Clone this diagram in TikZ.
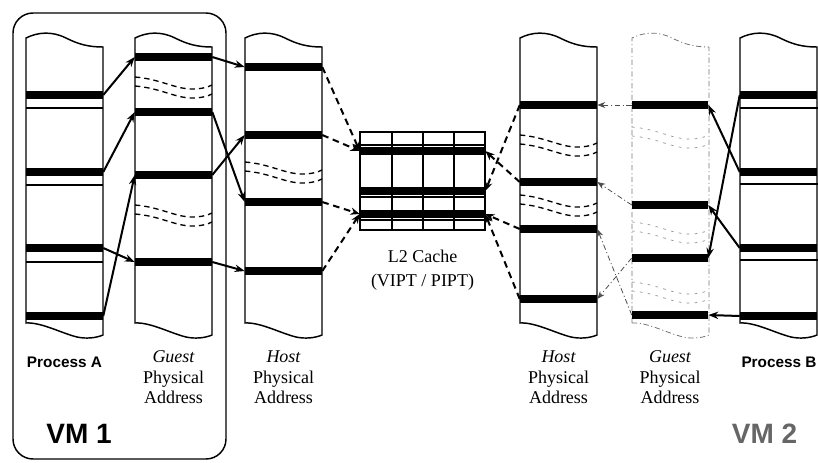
\documentclass[tikz,border=0pt]{standalone}
\usepackage{fontspec}
\setmainfont{Liberation Serif}
\setsansfont{Liberation Sans}
\usetikzlibrary{arrows.meta}

\begin{document}
\begin{tikzpicture}[x=0.75pt,y=-0.75pt,
  colline/.style={line width=1.1pt},
  bar/.style={fill=black, draw=none, inner sep=0pt, minimum width=57.75pt, minimum height=5.4pt},
  cachebar/.style={fill=black, draw=none, inner sep=0pt, minimum width=93.75pt, minimum height=6.5pt},
  sepline/.style={line width=0.8pt},
  mapsolid/.style={line width=1.5pt, -{Stealth[length=7.5pt,width=5.5pt]}},
  mapdash/.style={line width=1.5pt, dash pattern=on 5pt off 3.5pt, -{Stealth[length=7pt,width=5.5pt]}},
  mapdot/.style={line width=0.6pt, black!70, dash pattern=on 4pt off 2pt on 0.8pt off 2pt, -{Stealth[length=6pt,width=4.5pt]}},
  gapline/.style={line width=1pt, dash pattern=on 4pt off 3pt},
  faintgap/.style={line width=0.5pt, black!45, dash pattern=on 2pt off 4pt},
  faintcol/.style={line width=0.6pt, black!55, dash pattern=on 4pt off 2pt on 0.8pt off 2pt},
  serif/.style={font=\fontsize{13.5}{16}\selectfont, anchor=base, inner sep=0pt},
  sanslab/.style={font=\fontsize{11.5}{14}\selectfont\sffamily\bfseries, anchor=base, inner sep=0pt},
  vmlab/.style={font=\fontsize{21}{24}\selectfont\sffamily\bfseries, anchor=base, inner sep=0pt},
  pics/memcol/.style={code={
    \draw (0,323) -- (0,38) .. controls (12,32) and (26,31) .. (40,38)
      .. controls (52,44) and (62,47) .. (77,47) -- (77,335)
      .. controls (70,338) and (60,339) .. (51,337)
      .. controls (35,333) and (15,322) .. (0,323) -- cycle;
  }},
  pics/memgap/.style={code={
    \draw (0,0) .. controls (25,2) and (40,12) .. (57,12) .. controls (67,12) and (73,10) .. (77,8);
    \draw (0,9) .. controls (25,11) and (40,21) .. (57,21) .. controls (67,21) and (73,19) .. (77,17);
  }},
]
\useasboundingbox (0,0) rectangle (818,462);

% VM 1 enclosure
\draw[line width=1.1pt, rounded corners=15pt] (13,13) rectangle (226,459);

% address-space columns
\pic[colline] at (26,0) {memcol};
\pic[colline] at (135,0) {memcol};
\pic[colline] at (245,0) {memcol};
\pic[colline] at (520,0) {memcol};
\pic[faintcol] at (632,0) {memcol};
\pic[colline] at (740,0) {memcol};

% cut-away gaps inside the physical address columns
\pic[gapline] at (135,77) {memgap};
\pic[gapline] at (135,205) {memgap};
\pic[gapline] at (245,162) {memgap};
\pic[gapline] at (520,135) {memgap};
\pic[gapline] at (520,195) {memgap};
\pic[faintgap] at (632,127) {memgap};
\pic[faintgap] at (632,222) {memgap};
\pic[faintgap] at (632,282) {memgap};

% Process A pages
\node[bar] (pa1) at (64.5,95) {};
\node[bar] (pa2) at (64.5,172) {};
\node[bar] (pa3) at (64.5,248) {};
\node[bar] (pa4) at (64.5,316) {};
\draw[sepline] (26,108) -- (103,108) (26,185) -- (103,185) (26,262) -- (103,262);

% VM 1 guest physical pages
\node[bar] (g1) at (173.5,57) {};
\node[bar] (g2) at (173.5,112) {};
\node[bar] (g3) at (173.5,175) {};
\node[bar] (g4) at (173.5,262) {};

% VM 1 host physical pages
\node[bar] (h1) at (283.5,67) {};
\node[bar] (h2) at (283.5,135) {};
\node[bar] (h3) at (283.5,202) {};
\node[bar] (h4) at (283.5,271) {};

% L2 cache
\draw[line width=1pt] (360,132) rectangle (485,230);
\draw[line width=1pt] (392,132) -- (392,230) (423,132) -- (423,230) (454,132) -- (454,230);
\draw[line width=0.9pt] (360,145) -- (485,145) (360,197) -- (485,197) (360,220) -- (485,220);
\node[cachebar] (c1) at (422.5,151) {};
\node[cachebar] (c2) at (422.5,191) {};
\node[cachebar] (c3) at (422.5,214) {};

% VM 2 host physical pages
\node[bar] (k1) at (558.5,105) {};
\node[bar] (k2) at (558.5,182) {};
\node[bar] (k3) at (558.5,229) {};
\node[bar] (k4) at (558.5,299) {};

% VM 2 guest physical pages
\node[bar, minimum width=57pt] (q1) at (670,105) {};
\node[bar, minimum width=57pt] (q2) at (670,205) {};
\node[bar, minimum width=57pt] (q3) at (670,258) {};
\node[bar, minimum width=57pt] (q4) at (670,315) {};

% Process B pages
\node[bar] (pb1) at (778.5,95) {};
\node[bar] (pb2) at (778.5,172) {};
\node[bar] (pb3) at (778.5,248) {};
\node[bar] (pb4) at (778.5,316) {};
\draw[sepline] (740,108) -- (818,108) (740,184) -- (818,184) (740,260) -- (818,260);

% VM 1 mappings
\draw[mapsolid] (pa1.east) -- (g1.west);
\draw[mapsolid] (pa2.east) -- (g2.west);
\draw[mapsolid] (pa4.east) -- (g3.west);
\draw[mapsolid] (pa3.east) -- (g4.west);
\draw[mapsolid] (g1.east) -- (h1.west);
\draw[mapsolid] (g2.east) -- (h3.west);
\draw[mapsolid] (g3.east) -- (h2.west);
\draw[mapsolid] (g4.east) -- (h4.west);

% host pages into cache sets
\draw[mapdash] (h1.east) -- (c1.west);
\draw[mapdash] (h2.east) -- (c1.west);
\draw[mapdash] (h3.east) -- (c3.west);
\draw[mapdash] (h4.east) -- (c3.west);
\draw[mapdash] (k1.west) -- (c2.east);
\draw[mapdash] (k2.west) -- (c1.east);
\draw[mapdash] (k3.west) -- (c3.east);
\draw[mapdash] (k4.west) -- (c3.east);

% VM 2 mappings
\draw[mapdot] (q1.west) -- (k1.east);
\draw[mapdot] (q2.west) -- (k2.east);
\draw[mapdot] (q3.west) -- (k4.east);
\draw[mapdot] (q4.west) -- (k3.east);
\draw[mapsolid] (pb1.west) -- (q3.east);
\draw[mapsolid] (pb2.west) -- (q1.east);
\draw[mapsolid] (pb3.west) -- (q2.east);
\draw[mapsolid] (pb4.west) -- (q4.east);

% labels
\node[sanslab] (lpa) at (64.5,367) {Process A};
\node[sanslab] (lpb) at (779,367) {Process B};

\node[serif] (lg1a) at (173.5,362) {\itshape Guest};
\node[serif] (lg1b) at (173.5,383) {Physical};
\node[serif] (lg1c) at (173.5,403) {Address};

\node[serif] (lh1a) at (283.5,362) {\itshape Host};
\node[serif] (lh1b) at (283.5,383) {Physical};
\node[serif] (lh1c) at (283.5,403) {Address};

\node[serif] (lh2a) at (558.5,362) {\itshape Host};
\node[serif] (lh2b) at (558.5,383) {Physical};
\node[serif] (lh2c) at (558.5,403) {Address};

\node[serif] (lg2a) at (670,362) {\itshape Guest};
\node[serif] (lg2b) at (670,383) {Physical};
\node[serif] (lg2c) at (670,403) {Address};

\node[serif] (lc1) at (422.5,262) {L2 Cache};
\node[serif] (lc2) at (422.5,286) {(VIPT / PIPT)};

\node[vmlab] (vm1) at (79,443) {VM 1};
\node[vmlab, text=black!60] (vm2) at (764.5,443) {VM 2};
\end{tikzpicture}
\end{document}
